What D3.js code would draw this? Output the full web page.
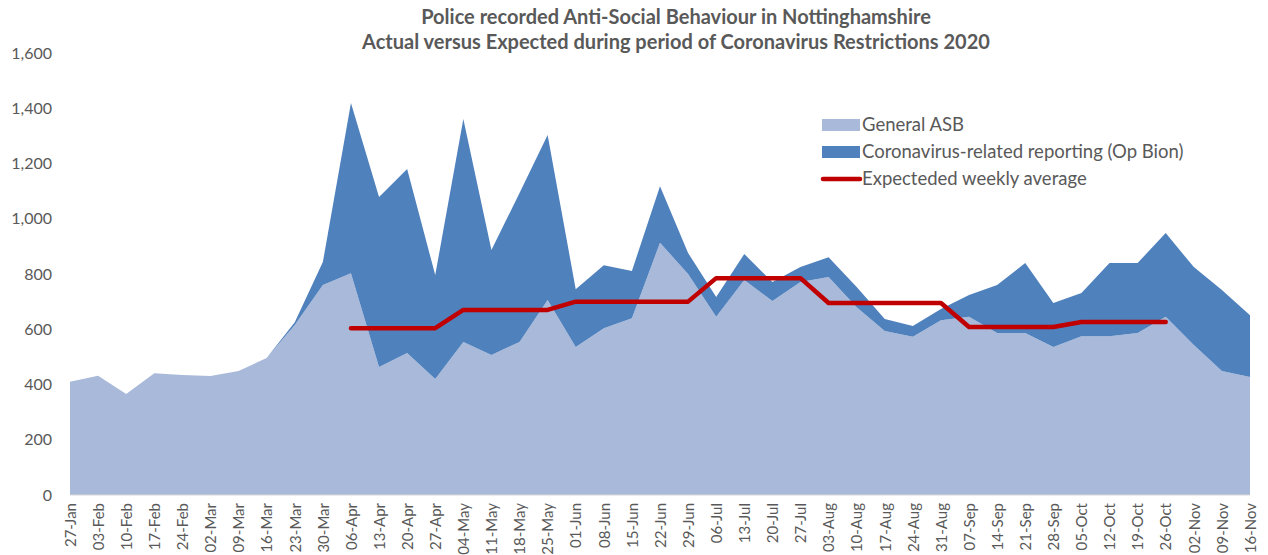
<!DOCTYPE html>
<html>
<head>
<meta charset="utf-8">
<script src="https://cdn.jsdelivr.net/npm/d3@7"></script>
<style>
  body { margin: 0; background: #fff; }
  text { font-family: Lato, "Open Sans", sans-serif; fill: #595959; }
</style>
</head>
<body>
<svg id="chart" width="1268" height="555"></svg>
<script>
let weeks = ["27-Jan", "03-Feb", "10-Feb", "17-Feb", "24-Feb", "02-Mar", "09-Mar", "16-Mar", "23-Mar", "30-Mar",
    "06-Apr", "13-Apr", "20-Apr", "27-Apr", "04-May", "11-May", "18-May", "25-May", "01-Jun", "08-Jun",
    "15-Jun", "22-Jun", "29-Jun", "06-Jul", "13-Jul", "20-Jul", "27-Jul", "03-Aug", "10-Aug", "17-Aug",
    "24-Aug", "31-Aug", "07-Sep", "14-Sep", "21-Sep", "28-Sep", "05-Oct", "12-Oct", "19-Oct", "26-Oct",
    "02-Nov", "09-Nov", "16-Nov"];
let generalASB = [410, 432, 366, 441, 434, 431, 449, 496, 615, 760,
    803, 463, 514, 420, 554, 507, 554, 706, 536, 604,
    640, 913, 800, 645, 778, 702, 771, 789, 680, 594,
    573, 633, 645, 586, 586, 536, 575, 575, 586, 645,
    543, 449, 427];
let opBion = [0, 0, 0, 0, 0, 0, 0, 0, 10, 83,
    616, 616, 666, 376, 807, 380, 539, 597, 209, 228,
    171, 205, 76, 72, 94, 69, 54, 72, 73, 43,
    39, 40, 79, 174, 254, 159, 156, 265, 254, 303,
    282, 293, 224];
let expected = [null, null, null, null, null, null, null, null, null, null,
    604, 604, 604, 604, 670, 670, 670, 670, 700, 700,
    700, 700, 700, 785, 785, 785, 785, 695, 695, 695,
    695, 695, 608, 608, 608, 608, 626, 626, 626, 626,
    null, null, null];
let yTicks = [0, 200, 400, 600, 800, 1000, 1200, 1400, 1600];
let seriesNames = ["General ASB", "Coronavirus-related reporting (Op Bion)", "Expecteded weekly average"];
let colors = ["#a9b9d9", "#4f81bd", "#c00000"];

let svg = d3.select("#chart");
let xscale = d3.scalePoint().domain(weeks).range([70, 1250]);
let yscale = d3.scaleLinear().domain([0, 1600]).range([495, 53]);

let rows = weeks.map((w, i) => ({ week: w, asb: generalASB[i], bion: opBion[i] }));
let stacked = d3.stack().keys(["asb", "bion"])(rows);

let area = d3.area()
    .x(d => xscale(d.data.week))
    .y0(d => yscale(d[0]))
    .y1(d => yscale(d[1]));

svg.append("g").selectAll("path")
    .data(stacked)
    .enter()
    .append("path")
    .attr("d", area)
    .attr("fill", (d, i) => colors[i]);

svg.append("line")
    .attr("x1", 70).attr("x2", 1250)
    .attr("y1", yscale(0)).attr("y2", yscale(0))
    .attr("stroke", "#d9d9d9");

let line = d3.line()
    .defined(d => d != null)
    .x((d, i) => xscale(weeks[i]))
    .y(d => yscale(d));

svg.append("path")
    .datum(expected)
    .attr("d", line)
    .attr("fill", "none")
    .attr("stroke", colors[2])
    .attr("stroke-width", 4.5)
    .attr("stroke-linecap", "round")
    .attr("stroke-linejoin", "round");

// y axis - labels only
let yAxis = d3.axisLeft(yscale).tickValues(yTicks).tickFormat(d3.format(",")).tickSize(0).tickPadding(0);
const gy = svg.append("g").attr("transform", "translate(52,0)").call(yAxis);
gy.select(".domain").remove();
gy.selectAll("text")
    .style("font-size", "16px")
    .style("font-family", "Lato, sans-serif")
    .attr("fill", "#595959");

// x axis - rotated labels
let xAxis = d3.axisBottom(xscale).tickSize(0).tickPadding(0);
const gx = svg.append("g").attr("transform", `translate(0, ${yscale(0)})`).call(xAxis);
gx.select(".domain").remove();
gx.selectAll("text")
    .attr("transform", "rotate(-90)")
    .attr("x", -8)
    .attr("y", 0)
    .attr("dy", "0.35em")
    .style("text-anchor", "end")
    .style("font-size", "15px")
    .style("font-family", "Lato, sans-serif")
    .attr("fill", "#595959");

svg.append("text")
    .attr("x", 676).attr("y", 24)
    .attr("text-anchor", "middle")
    .style("font-size", "20px").style("font-weight", "bold")
    .text("Police recorded Anti-Social Behaviour in Nottinghamshire");
svg.append("text")
    .attr("x", 676).attr("y", 49)
    .attr("text-anchor", "middle")
    .style("font-size", "20px").style("font-weight", "bold")
    .text("Actual versus Expected during period of Coronavirus Restrictions 2020");

// legend
const legend = svg.append("g").attr("transform", "translate(822,125)");
seriesNames.forEach((name, i) => {
    let g = legend.append("g").attr("transform", `translate(0, ${i * 27})`);
    if (i < 2) {
        g.append("rect").attr("x", 0).attr("y", -6).attr("width", 38).attr("height", 12).attr("fill", colors[i]);
    } else {
        g.append("line").attr("x1", 1).attr("x2", 38).attr("y1", 0).attr("y2", 0)
            .attr("stroke", colors[i]).attr("stroke-width", 4.5).attr("stroke-linecap", "round");
    }
    g.append("text").attr("x", 40).attr("y", 0).attr("dy", "0.35em")
        .style("font-size", "18.5px")
        .text(name);
});
</script>
</body>
</html>
